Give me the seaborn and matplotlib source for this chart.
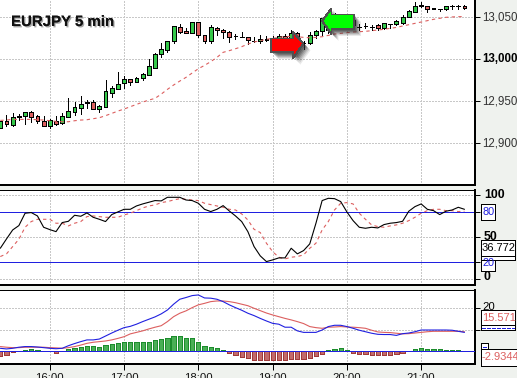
import numpy as np
import pandas as pd
import matplotlib
matplotlib.use('Agg')
import matplotlib.pyplot as plt
import matplotlib.patheffects as pe
from matplotlib.patches import Polygon, Rectangle
import seaborn as sns

W, H = 517, 378

opens = [12917.7, 12926.5, 12922.1, 12930.9, 12932.0, 12936.8, 12932.0, 12926.1, 12920.9, 12926.9,
         12923.7, 12931.6, 12937.6, 12942.4, 12947.5, 12948.7, 12941.2, 12943.6, 12960.2, 12965.0,
         12971.3, 12976.1, 12973.3, 12977.3, 12981.7, 12990.0, 13005.9, 13011.4, 13021.4, 13038.0,
         13033.3, 13030.9, 13044.0, 13028.5, 13021.4, 13036.9, 13034.5, 13032.1, 13027.3, 13026.9,
         13026.9, 13021.8, 13021.8, 13024.5, 13023.8, 13024.9, 13028.1, 13023.8, 13030.9, 13019.4,
         13019.0, 13029.3, 13034.1, 13034.9, 13052.7, 13046.8, 13050.7, 13046.8, 13038.8, 13039.6,
         13038.8, 13040.4, 13037.6, 13042.4, 13042.0, 13043.6, 13050.0, 13056.7, 13063.5, 13063.1,
         13060.7, 13060.3, 13059.5, 13063.1, 13063.1, 13063.5]
highs = [12926.1, 12933.6, 12935.6, 12934.8, 12936.8, 12938.0, 12933.6, 12932.0, 12928.5, 12932.0,
         12935.6, 12953.9, 12949.1, 12956.3, 12951.5, 12951.5, 12945.1, 12975.3, 12968.2, 12984.8,
         12980.1, 12976.1, 12978.5, 12983.3, 13000.3, 13007.1, 13019.8, 13021.4, 13039.2, 13042.0,
         13037.2, 13044.0, 13044.0, 13028.5, 13040.4, 13038.0, 13036.5, 13033.3, 13030.1, 13032.1,
         13026.9, 13026.1, 13028.5, 13027.7, 13027.7, 13029.7, 13029.7, 13034.9, 13032.9, 13022.2,
         13032.1, 13034.9, 13048.8, 13054.7, 13054.7, 13052.7, 13052.7, 13048.8, 13042.0, 13042.8,
         13041.2, 13042.0, 13042.8, 13042.4, 13046.8, 13053.1, 13058.7, 13068.6, 13067.8, 13063.1,
         13060.7, 13060.3, 13063.5, 13064.6, 13064.6, 13065.0]
lows = [12917.7, 12920.9, 12920.5, 12927.7, 12922.9, 12925.3, 12923.7, 12920.9, 12918.1, 12922.1,
        12922.5, 12930.9, 12934.0, 12934.8, 12941.6, 12940.4, 12937.2, 12943.6, 12955.1, 12965.0,
        12965.8, 12969.0, 12972.5, 12975.3, 12980.9, 12990.0, 13002.7, 13009.1, 13019.8, 13031.3,
        13030.9, 13030.9, 13026.1, 13019.8, 13019.8, 13028.9, 13025.7, 13020.6, 13024.1, 13026.1,
        13017.8, 13020.2, 13019.8, 13021.4, 13021.4, 13023.8, 13023.8, 13023.8, 13019.0, 13011.8,
        13018.2, 13024.9, 13028.9, 13030.9, 13042.8, 13042.8, 13040.8, 13036.9, 13034.9, 13036.9,
        13034.9, 13034.9, 13036.1, 13037.6, 13040.8, 13042.0, 13050.0, 13056.7, 13061.9, 13056.7,
        13059.5, 13057.9, 13059.1, 13059.9, 13059.5, 13059.5]
closes = [12926.1, 12922.5, 12930.9, 12932.0, 12936.8, 12931.6, 12926.1, 12920.9, 12927.3, 12922.5,
          12932.0, 12938.0, 12942.8, 12946.3, 12948.7, 12941.2, 12944.4, 12961.8, 12965.4, 12970.2,
          12976.1, 12973.3, 12977.3, 12982.1, 12991.6, 13005.9, 13011.8, 13021.4, 13039.2, 13032.9,
          13030.9, 13044.0, 13028.5, 13021.4, 13038.0, 13034.5, 13032.1, 13026.1, 13027.3, 13026.9,
          13022.6, 13021.8, 13024.1, 13023.0, 13025.7, 13027.7, 13025.7, 13030.9, 13023.8, 13019.4,
          13029.3, 13033.3, 13048.8, 13050.7, 13046.8, 13050.7, 13044.8, 13040.8, 13038.8, 13039.6,
          13038.8, 13037.6, 13042.8, 13042.4, 13045.6, 13050.0, 13057.1, 13063.9, 13064.6, 13059.9,
          13059.5, 13059.5, 13063.5, 13063.1, 13063.1, 13060.7]
price_ma = [12927.3, 12927.7, 12928.5, 12928.5, 12928.5, 12928.5, 12928.1, 12927.7, 12926.9, 12926.1,
            12925.7, 12925.7, 12926.9, 12927.7, 12928.1, 12929.3, 12930.5, 12932.9, 12935.6, 12938.4,
            12940.8, 12943.6, 12946.3, 12949.1, 12951.5, 12953.5, 12958.6, 12964.2, 12969.4, 12974.1,
            12978.5, 12983.7, 12988.8, 12992.8, 12997.2, 13002.3, 13008.3, 13010.3, 13012.6, 13015.0,
            13018.2, 13020.6, 13022.2, 13023.8, 13024.9, 13026.1, 13026.9, 13027.3, 13026.9, 13026.1,
            13025.7, 13026.1, 13026.9, 13028.5, 13030.1, 13030.9, 13031.7, 13032.5, 13032.9, 13033.3,
            13034.1, 13034.9, 13035.7, 13036.9, 13038.0, 13039.6, 13041.2, 13042.8, 13044.4, 13046.0,
            13047.6, 13048.8, 13050.0, 13050.4, 13050.8, 13050.8]
stoch_k = [36.9, 48.0, 58.7, 63.9, 78.6, 79.4, 75.4, 61.9, 59.1, 56.7,
           67.5, 69.0, 76.2, 75.0, 79.0, 73.8, 71.4, 68.7, 77.0, 80.2,
           83.3, 83.3, 87.3, 89.7, 91.7, 93.7, 93.3, 97.6, 97.6, 97.6,
           94.4, 93.7, 90.5, 83.3, 80.6, 83.3, 87.7, 81.3, 75.4, 68.7,
           56.7, 38.9, 27.8, 21.0, 23.0, 25.4, 25.4, 36.9, 30.2, 34.1,
           42.1, 66.7, 93.7, 96.4, 96.0, 92.5, 80.2, 69.8, 61.9, 60.7,
           61.9, 61.1, 65.1, 66.7, 67.5, 69.0, 81.0, 86.5, 89.7, 83.3,
           81.7, 77.0, 81.0, 82.5, 85.7, 83.3]
stoch_d = [27.0, 30.2, 38.9, 47.6, 61.9, 68.7, 71.4, 71.4, 71.4, 66.7,
           66.7, 63.5, 66.7, 68.7, 74.6, 75.4, 74.6, 73.8, 73.8, 73.8,
           76.6, 78.6, 81.7, 84.9, 87.3, 88.5, 91.3, 92.5, 94.4, 96.0,
           95.2, 94.4, 93.7, 90.5, 88.9, 87.3, 85.7, 83.3, 82.5, 77.8,
           70.6, 59.5, 55.6, 42.9, 32.9, 26.2, 24.2, 26.2, 27.0, 29.0,
           36.9, 42.9, 58.7, 68.7, 82.5, 90.5, 91.3, 89.7, 78.6, 71.4,
           64.7, 62.7, 61.9, 63.5, 64.7, 66.7, 69.8, 73.8, 78.6, 81.7,
           83.3, 83.3, 81.7, 81.7, 80.6, 81.0]
macd_fast = [1.4, 1.1, 1.4, 1.9, 2.2, 2.2, 2.0, 1.7, 1.4, 1.2,
             1.4, 2.6, 3.6, 4.5, 5.3, 5.3, 5.7, 7.1, 8.5, 9.8,
             11.0, 11.6, 12.6, 13.8, 14.9, 16.0, 17.4, 19.2, 21.9, 24.2,
             25.0, 25.9, 26.2, 24.8, 24.7, 24.2, 23.1, 21.6, 20.3, 19.1,
             17.7, 16.6, 15.3, 14.1, 13.0, 12.6, 11.2, 11.2, 9.5, 8.8,
             8.8, 8.8, 9.9, 11.5, 12.1, 12.1, 11.5, 10.7, 9.8, 9.1,
             8.4, 7.9, 7.8, 7.8, 7.4, 8.2, 8.5, 9.1, 9.9, 9.9,
             9.9, 9.9, 9.9, 9.8, 9.3, 8.8]
macd_slow = [2.2, 1.9, 1.7, 1.7, 1.9, 1.9, 1.9, 1.9, 1.7, 1.6,
             1.4, 1.7, 2.2, 2.9, 3.7, 4.2, 4.5, 4.8, 5.3, 6.0,
             6.8, 8.1, 8.8, 9.5, 10.4, 11.2, 11.9, 13.8, 16.1, 17.7,
             18.8, 20.3, 21.6, 22.3, 23.1, 23.4, 23.4, 23.1, 22.6, 21.9,
             21.2, 20.0, 18.9, 17.8, 16.9, 16.1, 15.3, 14.6, 13.8, 12.9,
             11.5, 11.0, 10.7, 11.2, 11.3, 11.5, 11.3, 11.2, 11.0, 10.7,
             9.8, 9.0, 8.8, 8.7, 8.4, 8.1, 8.2, 8.5, 8.8, 9.1,
             9.3, 9.3, 9.3, 9.3, 9.3, 9.1]
macd_hist = [-2.0, -1.5, -0.5, 0, 0.6, 1.1, 0.6, 0, 0, -0.6,
             0, 0.9, 1.6, 2.0, 2.5, 2.3, 1.9, 2.9, 3.3, 3.7,
             4.2, 4.2, 4.2, 4.2, 4.2, 5.1, 5.6, 6.0, 7.0, 7.0,
             6.0, 6.0, 4.2, 2.3, 1.9, 1.4, 0.5, -0.9, -1.5, -2.5,
             -3.0, -3.9, -3.9, -3.9, -3.9, -3.9, -3.9, -3.6, -3.6, -3.4,
             -3.0, -2.3, -1.1, 0.6, 1.1, 1.4, 0.5, -0.6, -1.1, -1.2,
             -1.5, -1.5, -1.5, -1.5, -1.2, -0.6, 0, 0.9, 1.4, 0.9,
             0.9, 0.9, 0.5, 0.5, 0.5, 0]
hour_bars = [8, 20, 32, 44, 56, 68]
hour_labels = ['16:00', '17:00', '18:00', '19:00', '20:00', '21:00']
price_ticks = [12900, 12950, 13000, 13050]

sns.set_style('white')
plt.rcParams['font.family'] = ['Liberation Sans', 'DejaVu Sans']
plt.rcParams['lines.antialiased'] = False
plt.rcParams['patch.antialiased'] = False

GREEN = '#35c84a'
RED = '#dc5f5f'
BLUE = '#2020e0'
GRID = '#c8c8c8'
LW = 0.72  # one pixel at this dpi
# aliased agg lines go two pixels wide on a slope, so the series stay smooth
series = dict(linewidth=0.8, antialiased=True, errorbar=None)
df = pd.DataFrame(dict(idx=np.arange(len(opens)), po=opens, ph=highs, pl=lows, pc=closes, ma=price_ma,
                       k=stoch_k, d=stoch_d, fast=macd_fast, slow=macd_slow, histo=macd_hist))
df['up'] = df.histo >= 0

fig = plt.figure(figsize=(W / 100, H / 100), dpi=100, facecolor='#eff2ee')

def panel(top, bottom, ylim, hgrid):
    ax = fig.add_axes([0, 1 - bottom / H, 475 / W, (bottom - top) / H], facecolor='white')
    ax.set_xlim(-0.05, 76.7)
    ax.set_ylim(*ylim)
    for x in hour_bars:
        ax.axvline(x, color=GRID, lw=LW, ls=(0, (2, 2)), zorder=0)
    for y in hgrid:
        ax.axhline(y, color=GRID, lw=LW, ls=(0, (2, 2)), zorder=0)
    for s in ax.spines.values():
        s.set_color('black')
    ax.spines['left'].set_visible(False)
    ax.spines['top'].set_linewidth(LW)
    ax.spines['bottom'].set_linewidth(2 * LW)
    ax.spines['right'].set_linewidth(2 * LW)
    return ax

# price panel
ax1 = panel(0, 185, (12850.4, 13070.6), price_ticks)
ax1.spines['top'].set_visible(False)
ax1.vlines(df.idx, df.pl, df.ph, color='black', lw=LW, zorder=2)
body_colors = [GREEN if c >= o else RED for o, c in zip(opens, closes)]
ax1.bar(df.idx, df.pc - df.po, bottom=df.po, width=0.62, color=body_colors,
        edgecolor='black', linewidth=LW, zorder=3)
sns.lineplot(data=df, x='idx', y='ma', ax=ax1, color=RED, linestyle=(0, (3, 3)), zorder=4, **series)

# stochastic panel
ax2 = panel(190, 285, (-6.9, 106.3), [0, 50, 100])
ax2.axhline(80, color=BLUE, lw=LW, zorder=1)
ax2.axhline(20, color=BLUE, lw=LW, zorder=1)
sns.lineplot(data=df, x='idx', y='d', ax=ax2, color=RED, linestyle=(0, (3, 3)), zorder=2, **series)
sns.lineplot(data=df, x='idx', y='k', ax=ax2, color='black', zorder=3, **series)

# macd panel
ax3 = panel(290, 364, (-5.9, 28.5), [10, 20])
sns.barplot(data=df, x='idx', y='histo', hue='up', palette={True: '#38c048', False: '#d05c5c'},
            native_scale=True, dodge=False, width=0.68, legend=False, ax=ax3,
            linewidth=LW, zorder=2)
for b in ax3.patches:
    b.set_edgecolor('#1c8c2c' if b.get_height() >= 0 else '#a03a3a')
ax3.axhline(0, color=BLUE, lw=LW, zorder=3)
sns.lineplot(data=df, x='idx', y='slow', ax=ax3, color=RED, zorder=4, **series)
sns.lineplot(data=df, x='idx', y='fast', ax=ax3, color=BLUE, zorder=5, **series)
ax3.set_xlim(-0.05, 76.7)
ax3.set_ylim(-5.9, 28.5)

for ax in (ax1, ax2, ax3):
    ax.set_xlabel('')
    ax.set_ylabel('')
    ax.set_xticks(hour_bars)
    ax.set_xticklabels([])
    ax.yaxis.tick_right()
    ax.tick_params(axis='both', length=0, labelright=False)
ax3.tick_params(axis='x', length=4.5, width=LW, color='black', bottom=True, direction='out', pad=2)
ax3.set_xticklabels(hour_labels, fontsize=8.2, color='#111111')

ax1.set_yticks(price_ticks)
ax2.set_yticks([0, 20, 50, 80, 100])
ax3.set_yticks([10, 20])
for ax in (ax1, ax2, ax3):
    ax.tick_params(axis='y', length=3.6, width=LW, color='black', right=True, direction='out')

def pxt(x, y, s, **kw):
    return fig.text(x / W, 1 - y / H, s, va='center', zorder=20, **kw)

def box(x0, y0, x1, y1):
    fig.add_artist(Rectangle((x0 / W, 1 - y1 / H), (x1 - x0) / W, (y1 - y0) / H,
                             transform=fig.transFigure, facecolor='white',
                             edgecolor='black', lw=LW, zorder=10))

def arrow(points, color):
    pts = [(x / W, 1 - y / H) for x, y in points]
    for off, alpha in ((7, 0.10), (6, 0.14), (5, 0.18), (4, 0.22), (3, 0.28), (2, 0.3)):
        shifted = [(x + off / W, y - off / H) for x, y in pts]
        fig.add_artist(Polygon(shifted, closed=True, transform=fig.transFigure, facecolor='#303030',
                               edgecolor='none', alpha=alpha, zorder=8, antialiased=True))
    fig.add_artist(Polygon(pts, closed=True, transform=fig.transFigure, facecolor=color,
                           edgecolor='#505050', lw=LW, zorder=9))

arrow([(271, 38.5), (293, 38.5), (293, 32), (303.5, 43.5), (293, 58), (293, 52), (271, 52)], '#ff0000')
arrow([(354, 14.5), (331.5, 14.5), (331.5, 8.5), (322, 21), (331.5, 34), (331.5, 29), (354, 29)], '#00ff00')

title = pxt(11, 22, 'EURJPY 5 min', fontsize=10.8, fontweight='bold', color='#111111')
title.set_path_effects([pe.withSimplePatchShadow(offset=(1, -1), shadow_rgbFace='#808080', alpha=0.7),
                        pe.Normal()])

for y, s, w in ((17.3, '13,050', 'normal'), (59.3, '13,000', 'bold'), (101.3, '12,950', 'normal'), (143.3, '12,900', 'normal')):
    pxt(482, y, s, fontsize=8.3, fontweight=w, color='#333333' if w == 'normal' else 'black')

pxt(484, 195.5, '100', fontsize=8.8, fontweight='bold', color='black')
pxt(484, 237, '50', fontsize=8.8, fontweight='bold', color='black')
pxt(484, 277.5, '0', fontsize=8.8, fontweight='bold', color='black')
box(481, 203.5, 495, 220)
pxt(482.5, 212, '80', fontsize=7.8, color=BLUE)
box(481, 255, 495, 270.5)
pxt(482.5, 263.5, '20', fontsize=7.8, color=BLUE)
box(481, 252, 515, 259.5)
box(481, 239.5, 515, 256)
pxt(482, 248, '36.772', fontsize=8, color='black')

pxt(482, 307, '20', fontsize=8.2, color='black')
box(481, 309.5, 515, 325)
pxt(482, 318, '15.571', fontsize=8, color=RED)
box(481, 325, 515, 329.5)
fig.add_artist(plt.Line2D([482 / W, 514 / W], [1 - 327.5 / H] * 2, color=BLUE, lw=LW, ls=(0, (3, 1.5)), zorder=12))
box(481, 342.5, 488, 348.5)
fig.add_artist(plt.Line2D([483 / W, 486 / W], [1 - 347 / H] * 2, color=BLUE, lw=LW, zorder=12))
box(481, 348.5, 517.5, 365.5)
pxt(482, 357.5, '-2.9344', fontsize=8, color=RED)

fig.savefig('out.png', dpi=100, facecolor=fig.get_facecolor())
